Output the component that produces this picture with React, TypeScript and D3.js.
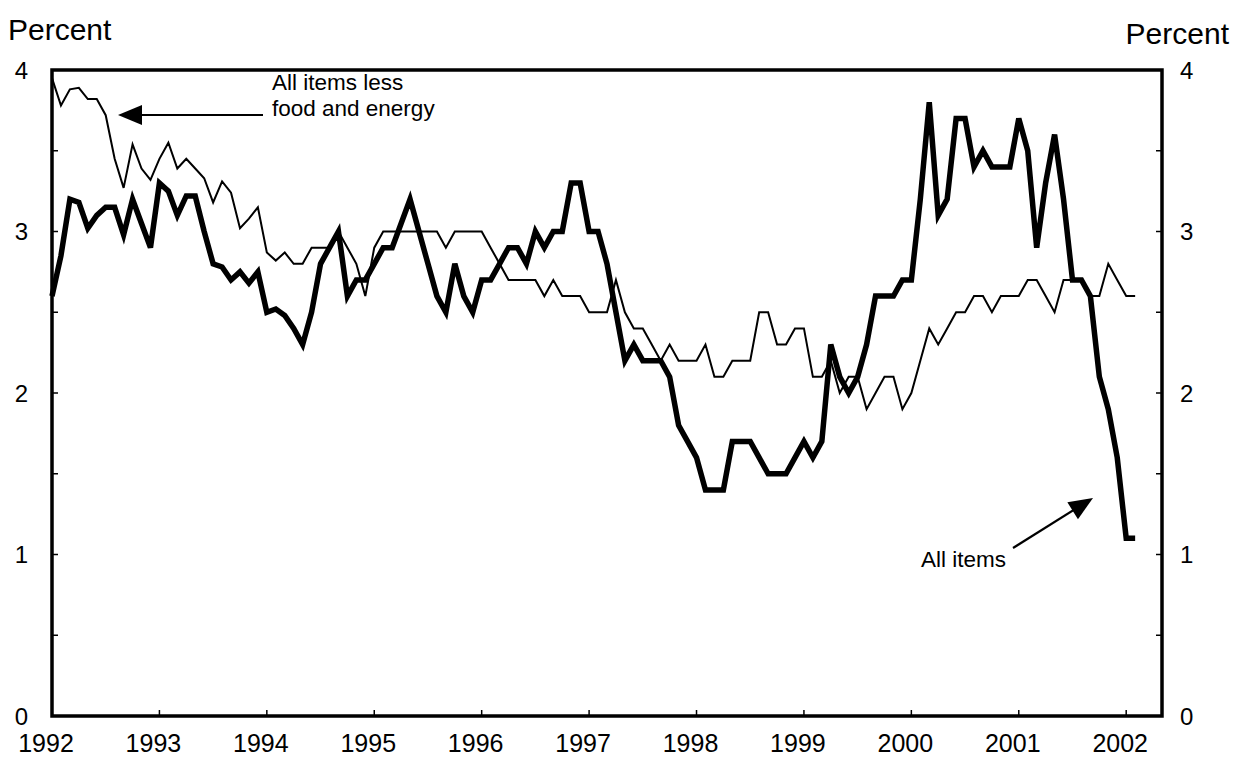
import React from "react";
import * as d3 from "d3";

// Monthly 12-month percent change, Jan 1992 .. Feb 2002
const allItems: number[] = [
  2.6, 2.85, 3.2, 3.18, 3.02, 3.1, 3.15, 3.15, 2.98, 3.2, 3.05, 2.9,
  3.3, 3.25, 3.1, 3.22, 3.22, 3.0, 2.8, 2.78, 2.7, 2.75, 2.68, 2.75,
  2.5, 2.52, 2.48, 2.4, 2.3, 2.5, 2.8, 2.9, 3.0, 2.6, 2.7, 2.7,
  2.8, 2.9, 2.9, 3.05, 3.2, 3.0, 2.8, 2.6, 2.5, 2.8, 2.6, 2.5,
  2.7, 2.7, 2.8, 2.9, 2.9, 2.8, 3.0, 2.9, 3.0, 3.0, 3.3, 3.3,
  3.0, 3.0, 2.8, 2.5, 2.2, 2.3, 2.2, 2.2, 2.2, 2.1, 1.8, 1.7,
  1.6, 1.4, 1.4, 1.4, 1.7, 1.7, 1.7, 1.6, 1.5, 1.5, 1.5, 1.6,
  1.7, 1.6, 1.7, 2.3, 2.1, 2.0, 2.1, 2.3, 2.6, 2.6, 2.6, 2.7,
  2.7, 3.2, 3.8, 3.1, 3.2, 3.7, 3.7, 3.4, 3.5, 3.4, 3.4, 3.4,
  3.7, 3.5, 2.9, 3.3, 3.6, 3.2, 2.7, 2.7, 2.6, 2.1, 1.9, 1.6,
  1.1, 1.1,
];

const coreItems: number[] = [
  3.95, 3.78, 3.88, 3.89, 3.82, 3.82, 3.72, 3.45, 3.27, 3.54, 3.39, 3.32,
  3.45, 3.55, 3.39, 3.45, 3.39, 3.33, 3.18, 3.31, 3.24, 3.02, 3.08, 3.15,
  2.87, 2.82, 2.87, 2.8, 2.8, 2.9, 2.9, 2.9, 3.0, 2.9, 2.8, 2.6,
  2.9, 3.0, 3.0, 3.0, 3.0, 3.0, 3.0, 3.0, 2.9, 3.0, 3.0, 3.0,
  3.0, 2.9, 2.8, 2.7, 2.7, 2.7, 2.7, 2.6, 2.7, 2.6, 2.6, 2.6,
  2.5, 2.5, 2.5, 2.7, 2.5, 2.4, 2.4, 2.3, 2.2, 2.3, 2.2, 2.2,
  2.2, 2.3, 2.1, 2.1, 2.2, 2.2, 2.2, 2.5, 2.5, 2.3, 2.3, 2.4,
  2.4, 2.1, 2.1, 2.2, 2.0, 2.1, 2.1, 1.9, 2.0, 2.1, 2.1, 1.9,
  2.0, 2.2, 2.4, 2.3, 2.4, 2.5, 2.5, 2.6, 2.6, 2.5, 2.6, 2.6,
  2.6, 2.7, 2.7, 2.6, 2.5, 2.7, 2.7, 2.7, 2.6, 2.6, 2.8, 2.7,
  2.6, 2.6,
];

const yearLabels: string[] = ["1992", "1993", "1994", "1995", "1996", "1997", "1998", "1999", "2000", "2001", "2002"];
const yLabelValues: number[] = [0, 1, 2, 3, 4];
const yMinorTicks: number[] = [0.5, 1, 1.5, 2, 2.5, 3, 3.5];

const FONT = "'Liberation Sans', Arial, Helvetica, sans-serif";

export default function App() {
  const W = 1235, H = 774;
  const left = 52, right = 1162, top = 70, bottom = 716;
  const x = d3.scaleLinear().domain([0, 124]).range([left, right]);
  const y = d3.scaleLinear().domain([0, 4]).range([bottom, top]);

  const line = d3.line<number>().x((_, i) => x(i)).y((d) => y(d));

  const tickLen = 6;
  const arrowHead = (x1: number, y1: number, x2: number, y2: number, len = 24, half = 10) => {
    const a = Math.atan2(y2 - y1, x2 - x1);
    const bx = x2 - len * Math.cos(a), by = y2 - len * Math.sin(a);
    const px = -Math.sin(a) * half, py = Math.cos(a) * half;
    return `M${x2},${y2}L${bx + px},${by + py}L${bx - px},${by - py}Z`;
  };

  return (
    <svg width={W} height={H} style={{ position: "absolute", left: 0, top: 0, background: "#fff" }} fontFamily={FONT}>
      <rect x={0} y={0} width={W} height={H} fill="#fff" />
      {/* lines */}
      <path d={line(coreItems) || ""} fill="none" stroke="#000" strokeWidth={2} strokeLinejoin="miter" />
      <path d={line(allItems) || ""} fill="none" stroke="#000" strokeWidth={5.5} strokeLinejoin="miter" />

      {/* frame */}
      <rect x={left} y={top} width={right - left} height={bottom - top} fill="none" stroke="#000" strokeWidth={3.5} />

      {/* y ticks both sides */}
      {yMinorTicks.map((v) => (
        <g key={"yt" + v}>
          <line x1={left} x2={left + tickLen} y1={y(v)} y2={y(v)} stroke="#000" strokeWidth={1.5} />
          <line x1={right} x2={right - tickLen} y1={y(v)} y2={y(v)} stroke="#000" strokeWidth={1.5} />
        </g>
      ))}
      {/* x ticks */}
      {yearLabels.map((lab, k) => (
        <line key={"xt" + lab} x1={x(12 * k)} x2={x(12 * k)} y1={bottom} y2={bottom - tickLen} stroke="#000" strokeWidth={1.5} />
      ))}

      {/* y labels */}
      {yLabelValues.map((v) => (
        <g key={"yl" + v} fontSize={24}>
          <text x={28} y={y(v)} textAnchor="end" dominantBaseline="central">{v}</text>
          <text x={1180} y={y(v)} textAnchor="start" dominantBaseline="central">{v}</text>
        </g>
      ))}
      {/* x labels */}
      {yearLabels.map((lab, k) => (
        <text key={"xl" + lab} x={x(12 * k) - 6} y={752} textAnchor="middle" fontSize={25}>{lab}</text>
      ))}

      <text x={8} y={40} fontSize={30}>Percent</text>
      <text x={1229} y={44} fontSize={30} textAnchor="end">Percent</text>

      {/* annotations */}
      <text x={272} y={90} fontSize={22.5}>All items less</text>
      <text x={272} y={115.5} fontSize={22.5}>food and energy</text>
      <line x1={263} y1={115} x2={135} y2={115} stroke="#000" strokeWidth={2} />
      <path d={arrowHead(263, 115, 118, 115)} fill="#000" />

      <text x={1006} y={567} fontSize={22.5} textAnchor="end">All items</text>
      <line x1={1013} y1={548} x2={1080} y2={506} stroke="#000" strokeWidth={2.2} />
      <path d={arrowHead(1013, 548, 1093, 498)} fill="#000" />
    </svg>
  );
}
